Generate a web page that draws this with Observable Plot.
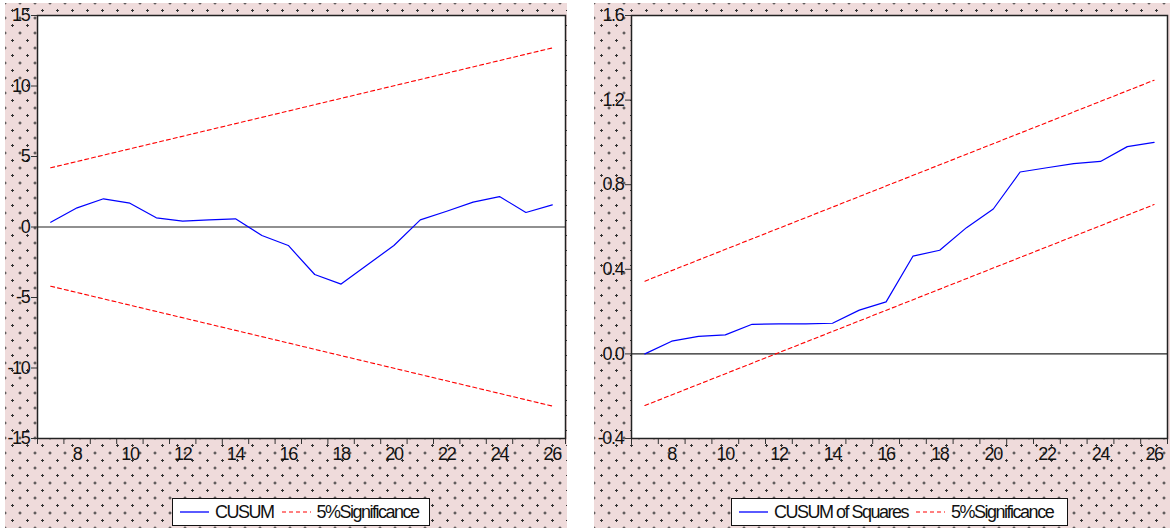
<!DOCTYPE html>
<html>
<head>
<meta charset="utf-8">
<script src="https://cdn.jsdelivr.net/npm/d3@7"></script>
<script src="https://cdn.jsdelivr.net/npm/@observablehq/plot@0.6"></script>
<style>
  html, body { margin: 0; padding: 0; background: #ffffff; }
  body { width: 1173px; height: 531px; position: relative; overflow: hidden; font-family: "Liberation Sans", Arial, sans-serif; }
  .panel {
    position: absolute; top: 3px; height: 525px;
    background-color: #efdbdb;
    background-image: radial-gradient(circle, #333 1px, rgba(0,0,0,0) 1.4px),
                      radial-gradient(circle, #333 1px, rgba(0,0,0,0) 1.4px);
    background-size: 15px 15px, 15px 15px;
    background-position: 0px 0px, 7.5px 7.5px;
  }
  .panel svg { position: absolute; left: 0; top: 0; }
  .legend {
    position: absolute; top: 495px; height: 28px; background: #ffffff;
    border: 1.5px solid #111; box-sizing: border-box;
    display: flex; align-items: center; padding-left: 7px;
    font-size: 18px; letter-spacing: -1.5px; color: #111; white-space: nowrap;
  }
  .legend svg { position: static; margin-right: 6px; }
  .legend span { margin-right: 8px; }
</style>
</head>
<body>
<div id="left" class="panel" style="left:5px;width:562px;"></div>
<div id="right" class="panel" style="left:594px;width:576px;"></div>
<script>
// ---- data ----
const periods = [7, 8, 9, 10, 11, 12, 13, 14, 15, 16, 17, 18, 19, 20, 21, 22, 23, 24, 25, 26];
const cusum = [0.34, 1.36, 2.0, 1.69, 0.65, 0.41, 0.5, 0.58, -0.6, -1.31, -3.37, -4.05, -2.68, -1.31, 0.51, 1.12, 1.76, 2.16, 1.03, 1.57];
const cusumSq = [0.0, 0.06, 0.083, 0.09, 0.14, 0.142, 0.142, 0.145, 0.207, 0.246, 0.462, 0.49, 0.597, 0.685, 0.86, 0.88, 0.90, 0.91, 0.98, 1.0];
const bandPeriods = [7, 26];
const cusumUpper = [4.2, 12.7];
const cusumLower = [-4.2, -12.7];
const sqUpper = [0.344, 1.294];
const sqLower = [-0.244, 0.706];
const xTickLabels = [8, 10, 12, 14, 16, 18, 20, 22, 24, 26];
const yTicksLeft = [-15, -10, -5, 0, 5, 10, 15];
const yTicksRight = [-0.4, 0.0, 0.4, 0.8, 1.2, 1.6];
const legendLeft = ["CUSUM", "5%Significance"];
const legendRight = ["CUSUM of Squares", "5%Significance"];

const seriesRows = (xs, ys) => xs.map((x, i) => ({x, y: ys[i]}));
const boundaries = d3.range(6.5, 27, 1);

function panel({width, marginLeft, marginRight, yDomain, yTicks, yFormat, values, upper, lower}) {
  return Plot.plot({
    width, height: 470,
    marginLeft, marginRight, marginTop: 12, marginBottom: 35,
    style: {background: "transparent", fontFamily: "Liberation Sans, Arial, sans-serif", fontSize: "18px", letterSpacing: "-1.3px", color: "#111", overflow: "visible"},
    x: {domain: [6.5, 26.5], axis: null, label: null},
    y: {domain: yDomain, axis: null, label: null},
    marks: [
      Plot.frame({fill: "white", stroke: "none"}),
      Plot.ruleY([0], {stroke: "#222", strokeWidth: 1.2}),
      Plot.line(seriesRows(bandPeriods, upper), {x: "x", y: "y", stroke: "#ff0000", strokeWidth: 1.1, strokeDasharray: "4,3"}),
      Plot.line(seriesRows(bandPeriods, lower), {x: "x", y: "y", stroke: "#ff0000", strokeWidth: 1.1, strokeDasharray: "4,3"}),
      Plot.line(seriesRows(periods, values), {x: "x", y: "y", stroke: "#0000ff", strokeWidth: 1.2}),
      Plot.axisX(boundaries, {tickSize: 6, stroke: "#333", tickFormat: () => "", tickPadding: 0, label: null}),
      Plot.axisX(xTickLabels, {tickSize: 0, tickPadding: 9, fontSize: 18, tickFormat: d => String(d), label: null}),
      Plot.axisY(yTicks, {tickSize: 6, tickPadding: 2, stroke: "#333", fontSize: 18, tickFormat: yFormat, label: null}),
      Plot.frame({stroke: "#222", strokeWidth: 1.5})
    ]
  });
}

function legend(left, width, labels) {
  const div = document.createElement("div");
  div.className = "legend";
  div.style.left = left + "px";
  div.style.width = width + "px";
  const solid = `<svg width="29" height="6"><line x1="0" x2="29" y1="3" y2="3" stroke="#0000ff" stroke-width="1.3"/></svg>`;
  const dashed = `<svg width="29" height="6"><line x1="0" x2="29" y1="3" y2="3" stroke="#ff0000" stroke-width="1.1" stroke-dasharray="4,3"/></svg>`;
  div.innerHTML = solid + `<span>${labels[0]}</span>` + dashed + `<span>${labels[1]}</span>`;
  return div;
}

const leftEl = document.getElementById("left");
leftEl.appendChild(panel({
  width: 562, marginLeft: 32, marginRight: 2,
  yDomain: [-15, 15], yTicks: yTicksLeft, yFormat: d => String(d),
  values: cusum, upper: cusumUpper, lower: cusumLower
}));
leftEl.appendChild(legend(167, 258, legendLeft));

const rightEl = document.getElementById("right");
rightEl.appendChild(panel({
  width: 576, marginLeft: 37, marginRight: 3,
  yDomain: [-0.4, 1.6], yTicks: yTicksRight, yFormat: d => (d < 0 ? "-" : "") + Math.abs(d).toFixed(1),
  values: cusumSq, upper: sqUpper, lower: sqLower
}));
rightEl.appendChild(legend(137, 337, legendRight));
</script>
</body>
</html>
